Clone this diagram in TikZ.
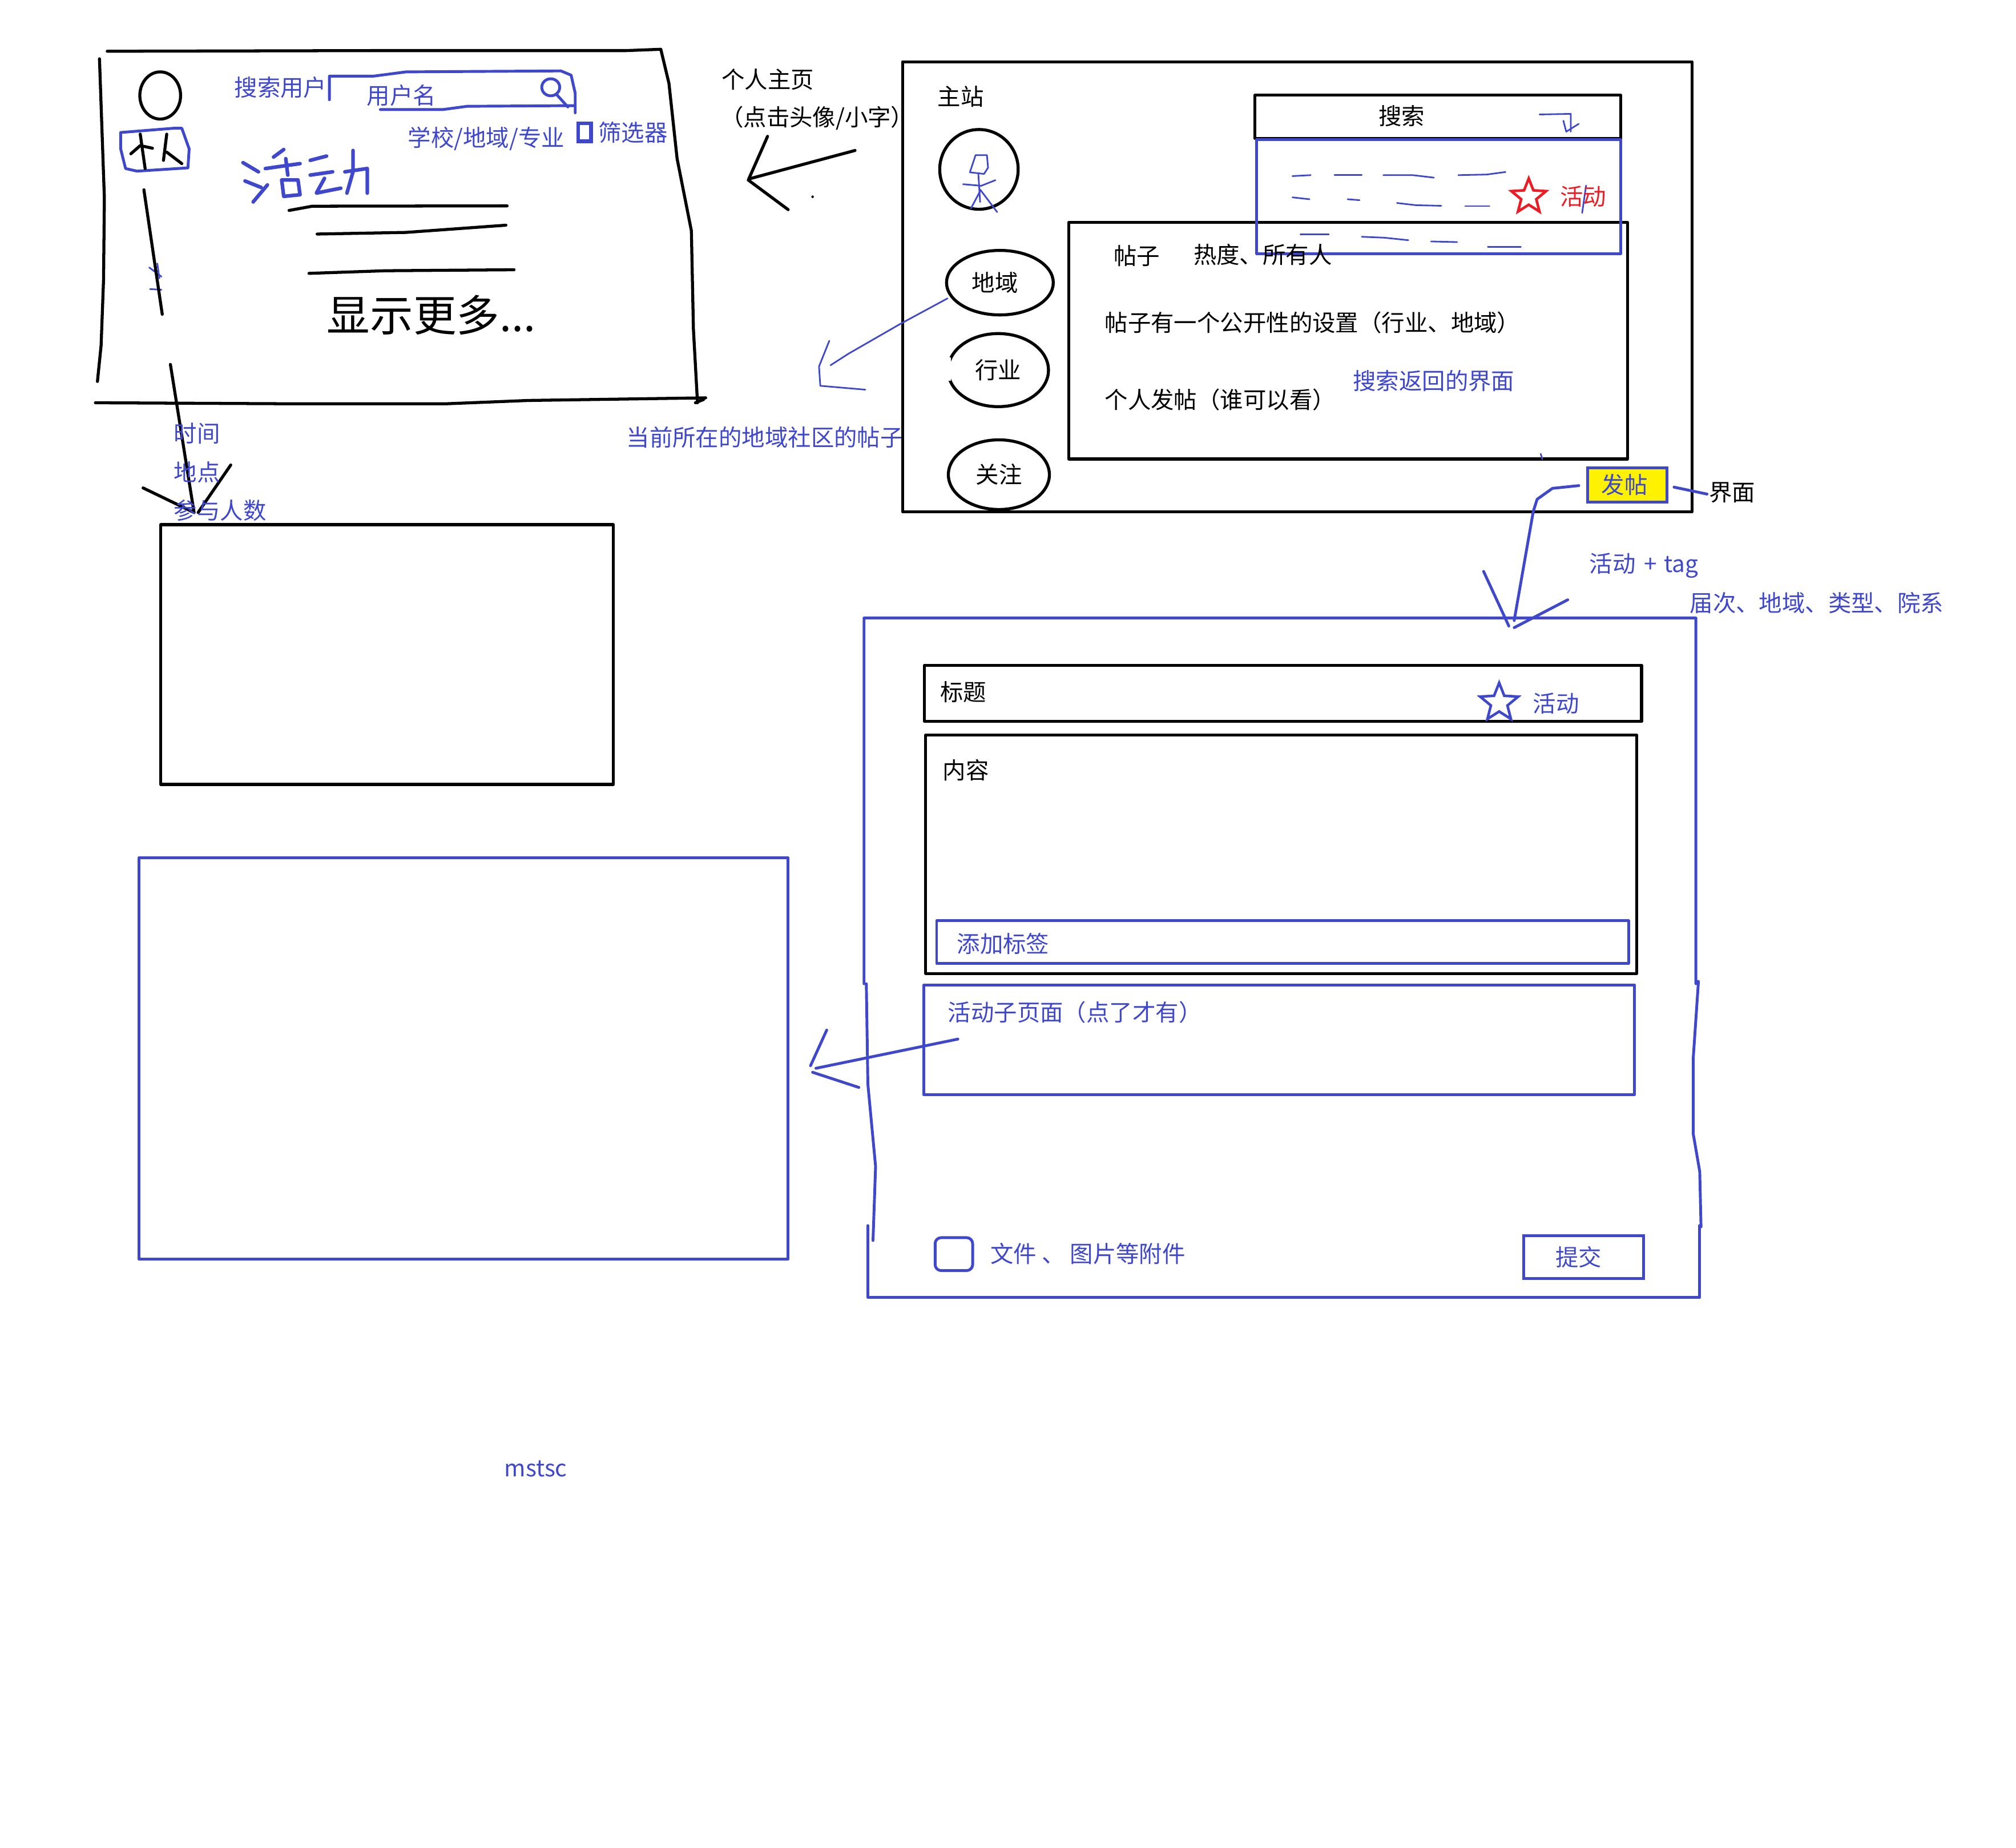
\documentclass[tikz,border=0pt]{standalone}
\usepackage{fontspec}
\setmainfont{Noto Sans CJK SC}
\usetikzlibrary{shapes.geometric}
\definecolor{inkblue}{HTML}{3F48CC}
\definecolor{inkred}{HTML}{ED1C24}
\definecolor{inkyellow}{HTML}{FFF200}
\tikzset{
    blackline/.style = {line width = 1.5pt, line join = round, line cap = round},
    blueline/.style = {inkblue, line width = 1.4pt, line join = round, line cap = round},
    thinblue/.style = {inkblue, line width = .8pt, line join = round, line cap = round},
    lbl/.style = {anchor = west, inner sep = 0pt, font = \fontsize{11.5}{14}\selectfont},
    bluelbl/.style = {lbl, text = inkblue},
    sideoval/.style = {draw, ellipse, blackline, inner sep = 0pt, font = \fontsize{11.5}{14}\selectfont},
    starmark/.style = {draw, star, star points = 5, star point ratio = 2.3, inner sep = 0pt, line width = 1.3pt},
    sketchleft/.style = {shift = {(62.15, 26.6)}, x = .00714cm, y = -.00574cm},
    sketchtop/.style = {shift = {(692.5, 35.5)}, x = .00995cm, y = -.005485cm},
    sketchform/.style = {shift = {(621.5, 355.1)}, x = .01339cm, y = -.009566cm}
}
\begin{document}
\begin{tikzpicture}[x = .022526cm, y = -.022526cm]
    \useasboundingbox (0, 0) rectangle (1568, 1436.6);

    \begin{scope}[sketchleft]
        \draw[blackline](67, 52) to (720, 50) to (1340, 50) to (1425, 46) to (1445, 150) to (1465, 380) to (1500, 600) to (1505, 900) to (1515, 1125);
        \draw[blackline](48, 75) to (60, 500) to (58, 750) to (52, 950) to (43, 1060);
        \draw[blackline](38, 1125) to (500, 1128) to (900, 1128) to (1100, 1118) to (1535, 1110);
        \draw[blackline](1510, 1125) to (1530, 1115);

        \draw[blackline](197, 187) circle [x radius = 50, y radius = 72];
        \draw[blueline](100, 300) to (230, 287) to (250, 287) to (268, 350) to (265, 408) to (140, 418) to (112, 410) to (100, 350) to (100, 300);
        \draw[blackline](148, 305) to (160, 410);
        \draw[blackline](125, 365) to (148, 340) to (178, 348);
        \draw[blackline](213, 305) to (205, 385);
        \draw[blackline](213, 360) to (250, 395);

        \draw[blueline](612, 200) to (612, 128) to (720, 128) to (800, 115) to (1180, 112) to (1205, 125) to (1215, 180) to (1215, 240);
        \draw[blueline](737, 230) to (890, 230) to (950, 220) to (1215, 218);
        \draw[blueline](1155, 162) circle [x radius = 22, y radius = 26];
        \draw[blueline](1170, 185) to (1197, 222);
        \draw[inkblue, line width = 1.8pt](1222, 272) rectangle (1254, 327);

        \draw[blueline, line width = 1.8pt](400, 392) to (438, 420);
        \draw[blueline, line width = 1.8pt](405, 448) to (445, 468);
        \draw[blueline, line width = 1.8pt](425, 512) to (460, 460);
        \draw[blueline, line width = 1.8pt](475, 375) to (500, 352);
        \draw[blueline, line width = 1.8pt](455, 410) to (540, 395);
        \draw[blueline, line width = 1.8pt](505, 380) to (510, 430);
        \draw[blueline, line width = 1.8pt](495, 445) to (500, 495) to (540, 490) to (535, 445) to (495, 445);
        \draw[blueline, line width = 1.8pt](565, 385) to (605, 372);
        \draw[blueline, line width = 1.8pt](565, 430) to (620, 420);
        \draw[blueline, line width = 1.8pt](600, 440) to (580, 485) to (640, 470);
        \draw[blueline, line width = 1.8pt](650, 420) to (705, 410) to (705, 485);
        \draw[blueline, line width = 1.8pt](670, 355) to (670, 420) to (655, 485);

        \draw[blackline](513, 538) to (570, 525) to (1048, 524);
        \draw[blackline](582, 610) to (800, 605) to (1045, 583);
        \draw[blackline](562, 730) to (750, 722) to (1065, 719);

        \draw[thinblue](190, 700) to (195, 745);
        \draw[thinblue](170, 712) to (200, 740);
        \draw[thinblue](172, 778) to (200, 780);
        \draw[blackline](157, 475) to (202, 855);
        \draw[blackline](222, 1008) to (280, 1460);
        \draw[blackline](155, 1385) to (280, 1460);
        \draw[blackline](370, 1315) to (290, 1460);
    \end{scope}

    \node[bluelbl] (searchuser) at (182, 68) {搜索用户};
    \node[bluelbl] (username) at (285, 74) {用户名};
    \node[bluelbl] (schoolfilter) at (317, 108) {学校/地域/专业};
    \node[bluelbl] (filterlabel) at (465, 103) {筛选器};
    \node[lbl, font = \fontsize{21.5}{25}\selectfont] (showmore) at (254, 245) {显示更多...};
    \node[bluelbl] (timelabel) at (135, 337) {时间};
    \node[bluelbl] (placelabel) at (135, 367) {地点};
    \node[bluelbl] (countlabel) at (135, 397) {参与人数};

    \draw[blackline](125, 408) rectangle (477, 610);
    \draw[blueline](108, 667) rectangle (613, 979);

    \node[lbl] (homelabel) at (561, 62) {个人主页};
    \node[lbl] (homenote) at (560, 92) {（点击头像/小字）};
    \draw[blackline](665, 117) to (583, 139);
    \draw[blackline](597, 106) to (582, 140) to (613, 163);
    \fill(632, 153) circle [radius = 1];

    \node[bluelbl] (regionnote) at (487, 340) {当前所在的地域社区的帖子};

    \draw[blackline](702, 48) rectangle (1316, 398);
    \node[lbl] (mainlabel) at (729, 75) {主站};
    \draw[blackline](761.4, 131.7) circle [x radius = 30.5, y radius = 31];
    \node[sideoval, minimum width = 1.87cm, minimum height = 1.13cm] (regionoval) at (777.7, 219.8) {地域\kern 5pt};
    \node[sideoval, minimum width = 1.76cm, minimum height = 1.28cm] (industry) at (776.4, 287.8) {行业};
    \draw[white, line width = 3pt](737.4, 278) to (737.4, 296);
    \node[sideoval, minimum width = 1.77cm, minimum height = 1.22cm] (follow) at (776.9, 369.1) {关注};

    \begin{scope}[sketchtop]
        \draw[thinblue](140, 405) to (150, 350) to (170, 350) to (172, 390) to (165, 410) to (140, 405);
        \draw[thinblue](155, 412) to (158, 500);
        \draw[thinblue](128, 443) to (160, 448) to (185, 430);
        \draw[thinblue](158, 460) to (188, 532);
        \draw[thinblue](158, 465) to (142, 520);
    \end{scope}

    \draw[blackline](976, 74) rectangle (1260.5, 107.6);
    \node[lbl] (searchlabel) at (1072, 90) {搜索};
    \draw[blackline](831.2, 173) rectangle (1265.8, 356.9);
    \draw[blueline](977.4, 108.5) rectangle (1260.5, 197.4);

    \begin{scope}[sketchtop]
        \draw[thinblue](1143, 220) to (1198, 218) to (1198, 275);
        \draw[thinblue](1185, 240) to (1190, 275) to (1212, 250);
        \draw[thinblue](708, 417) to (740, 414);
        \draw[thinblue](782, 414) to (830, 414);
        \draw[thinblue](868, 414) to (920, 414) to (957, 422);
        \draw[thinblue](1000, 414) to (1050, 412) to (1083, 404);
        \draw[thinblue](708, 485) to (738, 491);
        \draw[thinblue](805, 491) to (826, 494);
        \draw[thinblue](892, 503) to (925, 510) to (970, 512);
        \draw[thinblue](1012, 513) to (1055, 513);
        \draw[thinblue](722, 604) to (772, 604);
        \draw[thinblue](830, 611) to (870, 614) to (912, 622);
        \draw[thinblue](952, 626) to (998, 628);
        \draw[thinblue](1052, 644) to (1110, 644);
        \draw[thinblue](1225, 447) to (1218, 535);
        \draw[thinblue](1145, 1305) to (1148, 1322);
    \end{scope}

    \node[starmark, inkred, minimum size = .64cm] (redstar) at (1189, 153) {};
    \node[lbl, text = inkred] (redactive) at (1213, 153) {活动};
    \node[lbl] (posttab) at (866, 199) {帖子};
    \node[lbl] (posthot) at (928, 198) {热度、所有人};
    \node[lbl] (postsetting) at (859, 251) {帖子有一个公开性的设置（行业、地域）};
    \node[lbl] (postself) at (859, 311) {个人发帖（谁可以看）};
    \node[bluelbl] (searchback) at (1052, 296) {搜索返回的界面};

    \draw[thinblue](737, 232) to (700, 252) to (660, 275) to (646, 284);
    \draw[thinblue](645, 265) to (637, 285) to (638, 300) to (673, 303);

    \node[draw = inkblue, fill = inkyellow, line width = 1.4pt, inner sep = 0pt, minimum width = 1.39cm, minimum height = .6cm, text = inkblue, font = \fontsize{11.5}{14}\selectfont] (postbtn) at (1265.8, 377) {发帖\kern 3pt};
    \node[lbl] (pagelabel) at (1329, 383) {界面};
    \coordinate (pagestart) at (1302, 378.8);
    \coordinate (pageend) at (1327.7, 384.2);
    \draw[blueline](pagestart) to (pageend);

    \node[bluelbl] (tagnote) at (1236, 440) {活动\kern 1.5pt{} + \kern 1pt{}tag};
    \node[bluelbl] (tagkinds) at (1314, 469) {届次、地域、类型、院系};

    \draw[blueline](672, 765) to (672, 480.5) to (1319, 480.5) to (1319, 765) to (1321, 763) to (1317, 822) to (1317, 882) to (1322, 911) to (1323, 954);
    \draw[blueline](673.8, 765) to (675, 843) to (681, 907) to (679, 964.6);
    \draw[blueline](675, 953) to (675, 1009) to (1322, 1009) to (1322, 953);

    \begin{scope}[sketchform]
        \coordinate (posttip) at (935, 300);
        \draw[blueline, shorten <= 3.8pt](postbtn.west) to (985, 58) to (965, 78) to (960, 100) to (posttip);
        \draw[blueline](895, 210) to (928, 310);
        \draw[blueline](1005, 262) to (935, 313);
    \end{scope}

    \draw[blackline](719, 517.3) rectangle (1276.8, 561);
    \node[lbl] (titlelabel) at (731, 538) {标题};
    \node[starmark, inkblue, minimum size = .7cm] (bluestar) at (1166, 546.5) {};
    \node[bluelbl] (blueactive) at (1192, 547) {活动};

    \draw[blackline](720, 571.7) rectangle (1273, 757);
    \node[lbl] (contentlabel) at (733, 599) {内容};
    \draw[blueline](728.5, 716) rectangle (1266.6, 749.2);
    \node[bluelbl] (addtag) at (744, 734) {添加标签};

    \draw[blueline](718.4, 766) rectangle (1271.4, 851.2);
    \node[bluelbl] (subpage) at (737, 787) {活动子页面（点了才有）};
    \coordinate (subtail) at (745, 808);
    \coordinate (subtip) at (634.6, 830.7);
    \draw[blueline](subtail) to (subtip);
    \draw[blueline](643, 801) to (630.4, 828.7);
    \draw[blueline](632, 833.8) to (668, 845.6);

    \draw[blueline, rounded corners = 3pt](727.3, 962.4) rectangle (756.5, 988);
    \node[bluelbl] (attachlabel) at (770, 975) {文件 、 图片等附件};
    \node[draw = inkblue, line width = 1.4pt, inner sep = 0pt, minimum width = 2.1cm, minimum height = .75cm, text = inkblue, font = \fontsize{11.5}{14}\selectfont] (submit) at (1231.8, 977.6) {提交\kern 5pt};

    \node[bluelbl] (mstsc) at (392, 1142) {mstsc};
\end{tikzpicture}
\end{document}
